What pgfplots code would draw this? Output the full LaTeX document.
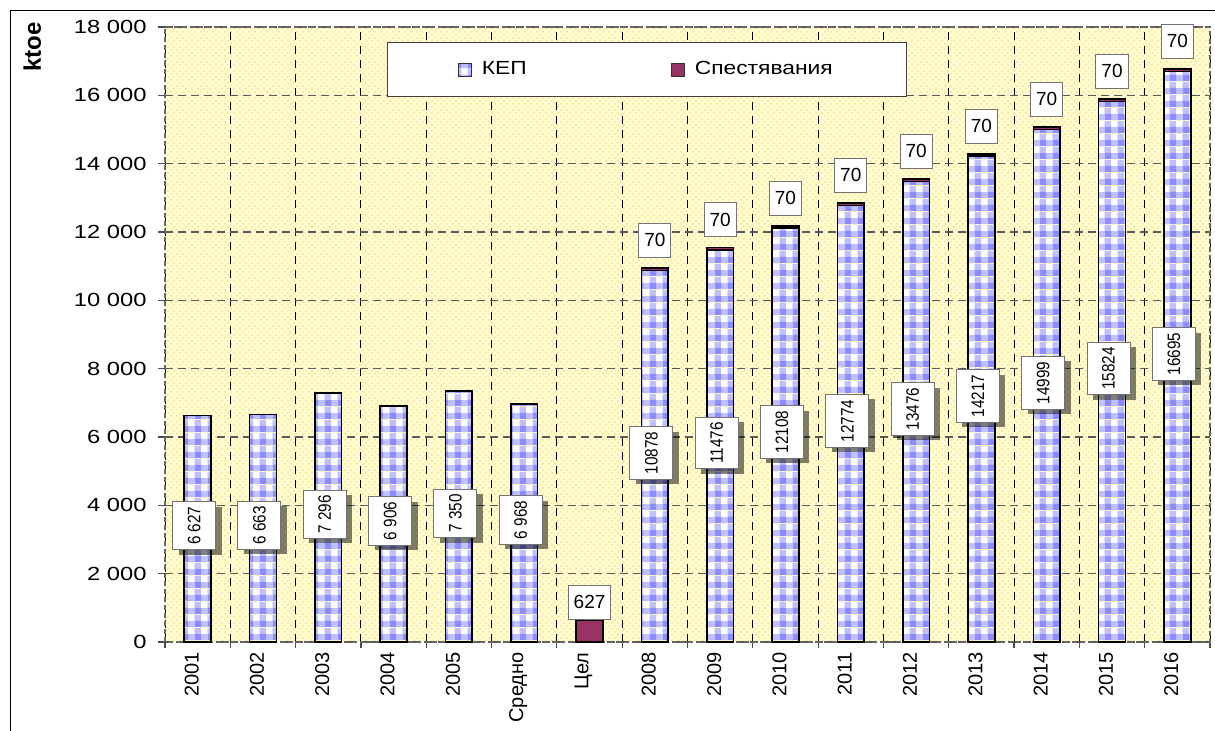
\documentclass[border=0pt]{standalone}
\usepackage{pgfplots}
\pgfplotsset{compat=1.18}
\usepackage{pgfplotstable}
\usepackage{graphicx}
\usepackage{fontspec}
\setmainfont{Liberation Sans}
\usetikzlibrary{patterns,shadows}

\definecolor{gblue}{RGB}{140,140,255}
\definecolor{gbase}{RGB}{192,192,255}
\definecolor{savred}{RGB}{153,51,102}
\definecolor{bgyellow}{RGB}{255,255,204}
\definecolor{dotor}{RGB}{255,212,175}

\pgfdeclarepatterninherentlycolored{gingham}{\pgfpointorigin}{\pgfqpoint{6.5pt}{6.5pt}}{\pgfqpoint{6.5pt}{6.5pt}}{%
  \pgfsetfillcolor{gbase}\pgfpathrectangle{\pgfpointorigin}{\pgfqpoint{6.5pt}{6.5pt}}\pgfusepath{fill}%
  \pgfsetfillcolor{gblue}\pgfpathrectangle{\pgfpointorigin}{\pgfqpoint{3.25pt}{3.25pt}}\pgfusepath{fill}%
  \pgfsetfillcolor{white}\pgfpathrectangle{\pgfqpoint{3.25pt}{3.25pt}}{\pgfqpoint{3.25pt}{3.25pt}}\pgfusepath{fill}%
}

\pgfplotstableread{
x kep kepl sav
0 6627 {6 627} 0
1 6663 {6 663} 0
2 7296 {7 296} 0
3 6906 {6 906} 0
4 7350 {7 350} 0
5 6968 {6 968} 0
6 0 {0} 627
7 10878 10878 70
8 11476 11476 70
9 12108 12108 70
10 12774 12774 70
11 13476 13476 70
12 14217 14217 70
13 14999 14999 70
14 15824 15824 70
15 16695 16695 70
}\datatab

\pgfplotsset{common/.style={at={(82.5pt,44.5pt)}, anchor=south west,
  scale only axis, width=522.5pt, height=307.5pt,
  xmin=-0.5, xmax=15.5, clip=false}}

\begin{document}
\begin{tikzpicture}
\path[use as bounding box] (0,0) rectangle (607.5pt,365.5pt);
\draw[black, line width=0.9pt] (5.25pt,0) -- (5.25pt,360.25pt) -- (607.5pt,360.25pt);
\begin{axis}[
  common,
  ybar stacked, bar width=0.41,
  ymin=0, ymax=18000,
  axis background/.style={fill=bgyellow, postaction={pattern=crosshatch dots, pattern color=dotor}},
  xtick={0,...,15},
  xticklabels={2001,2002,2003,2004,2005,Средно,Цел,2008,2009,2010,2011,2012,2013,2014,2015,2016},
  major x tick style={draw=none},
  minor xtick={-0.5,0.5,...,15.5},
  xminorgrids,
  minor x grid style={black, dash pattern=on 4pt off 3pt, line width=0.5pt},
  ytick={0,2000,...,18000},
  ymajorgrids,
  major y grid style={black!65, dash pattern=on 4pt off 2.5pt, line width=0.7pt},
  tick pos=left, tick align=outside,
  major tick length=3.5pt, minor tick length=3pt,
  tick style={solid, black!70, line width=0.6pt},
  axis line style={black!60, dash pattern=on 2.5pt off 1.5pt, line width=0.9pt},
  scaled y ticks=false,
  /pgf/number format/assume math mode=true,
  yticklabel={\scalebox{1.25}[1]{\pgfmathprintnumber[1000 sep={\ }]{\tick}}},
  yticklabel style={font=\fontsize{9.5}{11}\selectfont, anchor=east, inner sep=0pt, xshift=-5.5pt},
  xticklabel style={font=\fontsize{10}{12}\selectfont, rotate=90, anchor=east, inner sep=0pt, yshift=3pt, xshift=-1.5pt},
  legend columns=2,
  legend style={at={(0.2124,0.9756)}, anchor=north west, draw=black!75, line width=0.6pt, fill=white,
    font=\fontsize{9.5}{11}\selectfont, inner xsep=35pt, inner ysep=7.5pt,
    /tikz/every odd column/.append style={column sep=3pt},
    /tikz/every even column/.append style={column sep=70pt}},
]
\addplot[ybar, draw=black, line width=0.8pt, pattern=gingham,
  legend image code/.code={\draw[pattern=gingham, draw=black!80, line width=0.6pt] (0pt,-3.25pt) rectangle (6.5pt,3.25pt);},
] table[x=x, y=kep] {\datatab};
\addlegendentry{\scalebox{1.2}[1]{КЕП}}
\addplot[ybar, draw=black, line width=0.8pt, fill=savred,
  legend image code/.code={\draw[fill=savred, draw=black!80, line width=0.6pt] (0pt,-3.25pt) rectangle (6.5pt,3.25pt);},
  point meta=explicit symbolic,
  visualization depends on={rawy \as \sv},
  nodes near coords,
  every node near coord/.append style={
    /utils/exec={\pgfmathsetmacro\sop{(\sv>0) ? 1 : 0}},
    anchor=center, yshift=14.5pt,
    draw=black!55, fill=white, line width=0.5pt, inner xsep=2.75pt, inner ysep=2pt,
    minimum height=17pt, font=\fontsize{9.5}{11}\selectfont, text=black,
    opacity=\sop, text opacity=\sop},
] table[x=x, y=sav, meta=sav] {\datatab};
\addlegendentry{\scalebox{1.2}[1]{Спестявания}}
\end{axis}
% overlay axis at double scale: bar values land at the middle of each bar
\begin{axis}[common, hide axis, ymin=0, ymax=36000]
\addplot[draw=none, mark=none,
  skip coords between index={6}{7},
  point meta=explicit symbolic,
  nodes near coords={\rotatebox{90}{\scalebox{0.85}[1]{\pgfplotspointmeta}}},
  every node near coord/.append style={
    anchor=center, xshift=-1.75pt, yshift=1.5pt,
    draw=black!55, fill=white, line width=0.5pt, inner sep=2.5pt,
    minimum width=21.5pt, minimum height=23.5pt,
    font=\fontsize{9}{10}\selectfont, text=black,
    drop shadow={shadow xshift=3pt, shadow yshift=-2.5pt, fill=black, draw=none}},
] table[x=x, y=kep, meta=kepl] {\datatab};
\end{axis}
\node[rotate=90, anchor=north east, inner sep=0pt, font=\fontsize{12}{14}\selectfont\bfseries] at (11.5pt,354.5pt) {ktoe};
\end{tikzpicture}
\end{document}
